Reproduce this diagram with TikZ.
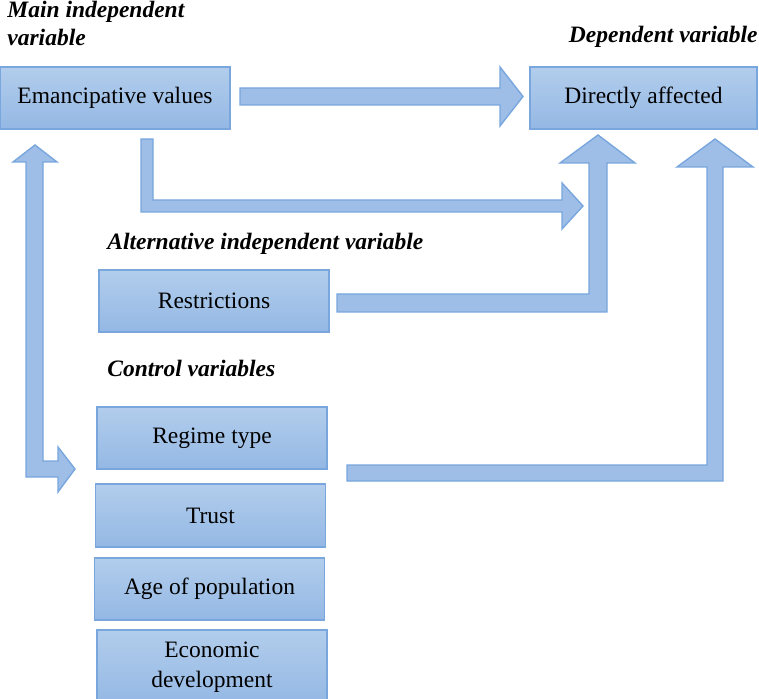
\documentclass[tikz,border=0pt]{standalone}
\usepackage{fontspec}
\setmainfont{Liberation Serif}
\usepackage{tikz}

\definecolor{boxtop}{RGB}{178,205,236}
\definecolor{boxbot}{RGB}{148,184,228}
\definecolor{boxline}{RGB}{120,166,221}
\definecolor{arrowfill}{RGB}{158,190,231}
\definecolor{arrowline}{RGB}{120,166,221}

\tikzset{
  varbox/.style={draw=boxline, line width=0.6pt, top color=boxtop, bottom color=boxbot,
    minimum width=115pt, minimum height=31pt, inner sep=0pt, align=center,
    font=\fontsize{11.75}{15}\selectfont},
  heading/.style={inner sep=0pt, align=left, font=\fontsize{11.75}{14}\selectfont\bfseries\itshape},
  blockarrow/.style={draw=arrowline, line width=0.7pt, fill=arrowfill, line join=miter}
}

\begin{document}
\begin{tikzpicture}[x=0.5pt,y=-0.5pt]
	\useasboundingbox (0,0) rectangle (759,699);
	% Headings
	\node[heading, anchor=base west] (mainlbl) at (7,46) {Main independent\\variable};
	\node[heading, anchor=base east] (deplbl) at (758,43) {Dependent variable};
	\node[heading, anchor=base west] (altlbl) at (107,250) {Alternative independent variable};
	\node[heading, anchor=base west] (ctrllbl) at (107,377) {Control variables};
	% Boxes
	\node[varbox] (emv) at (115,98) {Emancipative values};
	\node[varbox, minimum width=113.5pt] (dir) at (643.5,98) {Directly affected};
	\node[varbox] (res) at (214,301) {Restrictions};
	\node[varbox] (reg) at (212,438) {Regime type};
	\node[varbox, minimum height=31.5pt] (tru) at (210.5,515.5) {Trust};
	\node[varbox] (age) at (209.5,589) {Age of population};
	\node[varbox, minimum height=37pt] (eco) at (212,667) {Economic\\development};
	% Block arrows
	% emancipative values -> directly affected
	\draw[blockarrow] (240,88) -- (500,88) -- (500,67) -- (523,96.5) -- (500,126) -- (500,105) -- (240,105) -- cycle;
	% emancipative values -> restrictions arrow
	\draw[blockarrow] (141,139) -- (153,139) -- (153,200) -- (562,200) -- (562,183) -- (583,206) -- (562,229) -- (562,212) -- (141,212) -- cycle;
	% restrictions -> directly affected
	\draw[blockarrow] (337,294) -- (589,294) -- (589,163) -- (560,163) -- (598,135) -- (635,163) -- (607,163) -- (607,312) -- (337,312) -- cycle;
	% controls -> directly affected
	\draw[blockarrow] (347,465) -- (707,465) -- (707,167) -- (677,167) -- (715,139) -- (753,167) -- (723,167) -- (723,481) -- (347,481) -- cycle;
	% emancipative values <-> controls
	\draw[blockarrow] (35,145) -- (57,162) -- (43,162) -- (43,461) -- (58,461) -- (58,447) -- (75,469) -- (58,492) -- (58,477) -- (26,477) -- (26,162) -- (13,162) -- cycle;
\end{tikzpicture}
\end{document}
